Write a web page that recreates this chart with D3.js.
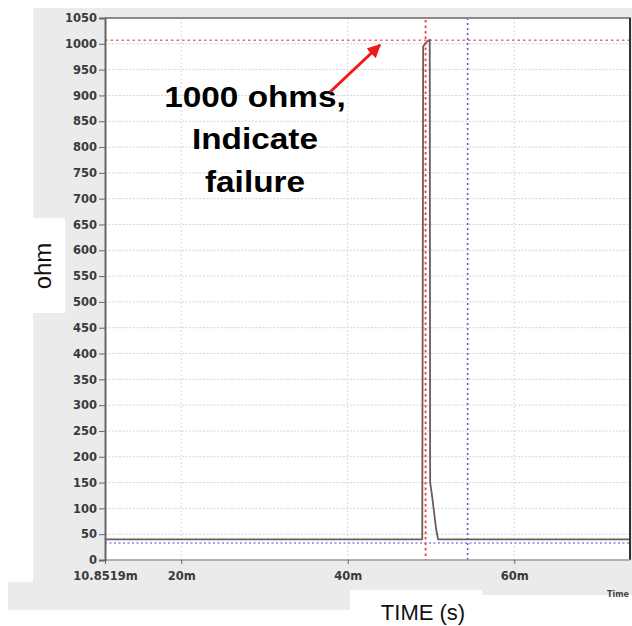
<!DOCTYPE html>
<html>
<head>
<meta charset="utf-8">
<script src="https://cdn.jsdelivr.net/npm/d3@7"></script>
<style>
  html, body { margin: 0; padding: 0; background: #fff; }
  svg { display: block; }
</style>
</head>
<body>
<svg id="chart" width="632" height="626"></svg>
<script>
// ---- data ----
const timeMs = [10.8519, 48.95, 49.03, 49.06, 49.5, 49.85, 49.9, 50.1, 50.35, 50.6, 50.85, 73.9];
const ohms   = [40, 40, 690, 995, 1004, 1008, 150, 128, 95, 62, 40, 40];
const yTicks = d3.range(0, 1051, 50);
const xTickValues = [10.8519, 20, 40, 60];
const xTickLabels = ["10.8519m", "20m", "40m", "60m"];
const redLevel = 1007;      // red dotted horizontal cursor
const blueLevel = 33;       // blue dotted horizontal cursor
const redTime = 49.35;      // red dotted vertical cursor
const blueTime = 54.4;      // blue dotted vertical cursor
const annotationLines = ["1000 ohms,", "Indicate", "failure"];

const svg = d3.select("#chart");

// ---- backgrounds ----
svg.append("rect").attr("x", 33).attr("y", 8).attr("width", 599).attr("height", 587).attr("fill", "#ebebeb");
svg.append("rect").attr("x", 8).attr("y", 582).attr("width", 342).attr("height", 28).attr("fill", "#ebebeb");
svg.append("rect").attr("x", 350).attr("y", 590).attr("width", 132).attr("height", 36).attr("fill", "#fff");
svg.append("rect").attr("x", 30).attr("y", 218).attr("width", 35).attr("height", 95).attr("fill", "#fff");

const pLeft = 105, pRight = 630, pTop = 18, pBottom = 560;
const x = d3.scaleLinear().domain([10.8519, 73.9]).range([pLeft, pRight]);
const y = d3.scaleLinear().domain([0, 1050]).range([pBottom, pTop]);

svg.append("rect").attr("x", pLeft).attr("y", pTop).attr("width", pRight - pLeft).attr("height", pBottom - pTop).attr("fill", "#fff");

// grid
const grid = svg.append("g");
grid.selectAll("line.h").data(yTicks.filter(d => d > 0 && d < 1050)).join("line")
  .attr("x1", pLeft).attr("x2", pRight).attr("y1", d => y(d)).attr("y2", d => y(d))
  .attr("stroke", "#d4d4d4").attr("stroke-width", 1).attr("stroke-dasharray", "2,1.5");
grid.selectAll("line.v").data(xTickValues.slice(1)).join("line")
  .attr("x1", d => x(d)).attr("x2", d => x(d)).attr("y1", pTop).attr("y2", pBottom)
  .attr("stroke", "#d9d9d9").attr("stroke-width", 1).attr("stroke-dasharray", "2,2");

// cursors
svg.append("line").attr("x1", pLeft).attr("x2", pRight).attr("y1", y(blueLevel)).attr("y2", y(blueLevel))
  .attr("stroke", "#a0a0f4").attr("stroke-width", 2).attr("stroke-dasharray", "2,2.5");
svg.append("line").attr("x1", pLeft).attr("x2", pRight).attr("y1", y(redLevel)).attr("y2", y(redLevel))
  .attr("stroke", "#f26a6a").attr("stroke-width", 1.6).attr("stroke-dasharray", "2.5,3");
svg.append("line").attr("x1", x(blueTime)).attr("x2", x(blueTime)).attr("y1", pTop).attr("y2", pBottom)
  .attr("stroke", "#5a5ae6").attr("stroke-width", 1.6).attr("stroke-dasharray", "2,3");

// trace
const line = d3.line().x((d, i) => x(timeMs[i])).y((d) => y(d));
svg.append("path").datum(ohms).attr("d", line)
  .attr("fill", "none").attr("stroke", "#6e5a5a").attr("stroke-width", 1.8).attr("stroke-linejoin", "round");

svg.append("line").attr("x1", x(redTime)).attr("x2", x(redTime)).attr("y1", pTop + 2).attr("y2", pBottom)
  .attr("stroke", "#f03c3c").attr("stroke-width", 1.8).attr("stroke-dasharray", "2.5,3");

// frame
svg.append("line").attr("x1", pLeft).attr("x2", pRight + 1).attr("y1", pTop).attr("y2", pTop).attr("stroke", "#8a8a8a").attr("stroke-width", 2);
svg.append("line").attr("x1", pRight).attr("x2", pRight).attr("y1", pTop).attr("y2", pBottom).attr("stroke", "#333").attr("stroke-width", 2);
svg.append("line").attr("x1", pLeft).attr("x2", pRight).attr("y1", pBottom).attr("y2", pBottom).attr("stroke", "#9a9a9a").attr("stroke-width", 1.5);

// y axis
const yAxis = d3.axisLeft(y).tickValues(yTicks).tickSize(6).tickPadding(2).tickFormat(d3.format("d"));
const yg = svg.append("g").attr("transform", `translate(${pLeft},0)`).call(yAxis);
yg.select(".domain").attr("stroke", "#666").attr("stroke-width", 2);
yg.selectAll(".tick line").attr("stroke", "#666");
yg.selectAll(".tick text").attr("fill", "#3a3a3a").style("font-family", "DejaVu Sans, sans-serif")
  .style("font-size", "11.5px").style("font-weight", "bold");

// x axis
const xAxis = d3.axisBottom(x).tickValues(xTickValues).tickSize(4).tickPadding(8)
  .tickFormat((d, i) => xTickLabels[i]);
const xg = svg.append("g").attr("transform", `translate(0,${pBottom})`).call(xAxis);
xg.select(".domain").remove();
xg.selectAll(".tick line").attr("stroke", "#666");
xg.selectAll(".tick text").attr("fill", "#3a3a3a").style("font-family", "DejaVu Sans, sans-serif")
  .style("font-size", "11.5px").style("font-weight", "bold");

// axis titles
svg.append("text").attr("transform", "translate(51,266) rotate(-90)").attr("text-anchor", "middle")
  .style("font-family", "Liberation Sans, Arial, sans-serif").style("font-size", "24px").attr("fill", "#111").text("ohm");
svg.append("text").attr("x", 423).attr("y", 620).attr("text-anchor", "middle")
  .style("font-family", "Liberation Sans, Arial, sans-serif").style("font-size", "22px").attr("fill", "#111").text("TIME (s)");
svg.append("text").attr("x", 607).attr("y", 597)
  .style("font-family", "DejaVu Sans, sans-serif").style("font-size", "8px").style("font-weight", "bold").attr("fill", "#444").text("Time");

// annotation
const ann = svg.append("g").attr("transform", "translate(255,0) scale(1.15,1)");
ann.selectAll("text").data(annotationLines).join("text")
  .attr("x", 0).attr("y", (d, i) => 107 + i * 42.5).attr("text-anchor", "middle")
  .style("font-family", "Liberation Sans, Arial, sans-serif").style("font-weight", "bold").style("font-size", "29px")
  .attr("fill", "#000").text(d => d);

svg.append("defs").append("marker").attr("id", "ah").attr("viewBox", "0 0 10 10").attr("refX", 9).attr("refY", 5)
  .attr("markerWidth", 4.5).attr("markerHeight", 4.5).attr("orient", "auto")
  .append("path").attr("d", "M0,0 L10,5 L0,10 Z").attr("fill", "#f01818");
svg.append("line").attr("x1", 330).attr("y1", 92).attr("x2", 380).attr("y2", 45)
  .attr("stroke", "#f01818").attr("stroke-width", 3).attr("marker-end", "url(#ah)");
</script>
</body>
</html>
